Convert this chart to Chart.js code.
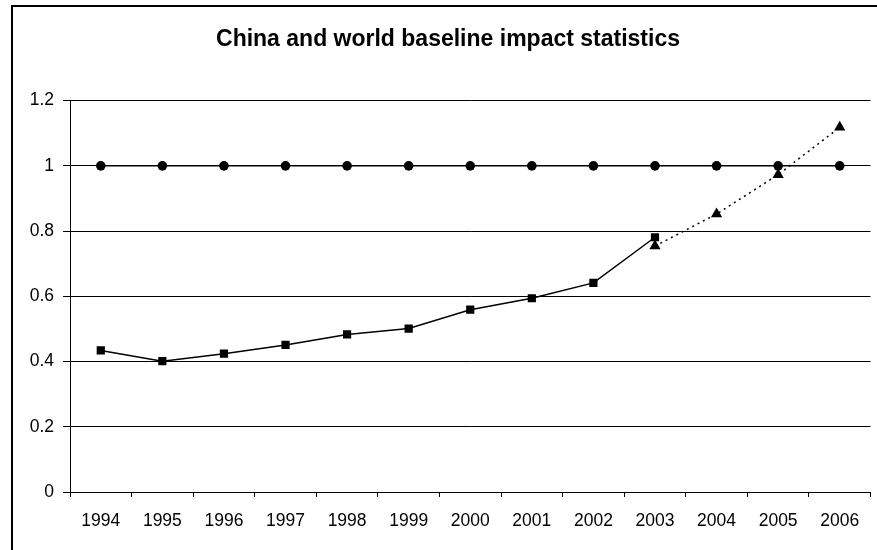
<!DOCTYPE html>
<html>
<head>
<meta charset="utf-8">
<script src="https://cdn.jsdelivr.net/npm/chart.js@4/dist/chart.umd.min.js"></script>
<style>
  html, body { margin: 0; padding: 0; background: #fff; }
  #wrap { width: 877px; height: 550px; }
</style>
</head>
<body>
<div id="wrap"><canvas id="c" width="877" height="550"></canvas></div>
<script>
// Categories and series
const years = ['1994', '1995', '1996', '1997', '1998', '1999', '2000',
               '2001', '2002', '2003', '2004', '2005', '2006'];
const worldBaseline = [1, 1, 1, 1, 1, 1, 1, 1, 1, 1, 1, 1, 1];
const chinaImpact = [0.434, 0.401, 0.424, 0.451, 0.483, 0.501, 0.559,
                     0.594, 0.641, 0.781, null, null, null];
const chinaProjected = [null, null, null, null, null, null, null,
                        null, null, 0.754, 0.852, 0.973, 1.118];
const yTickValues = [0, 0.2, 0.4, 0.6, 0.8, 1, 1.2];
const yTickLabels = ['0', '0.2', '0.4', '0.6', '0.8', '1', '1.2'];
const chartTitle = 'China and world baseline impact statistics';

const FONT = "'Liberation Sans', Arial, Helvetica, sans-serif";
Chart.defaults.font.family = FONT;
Chart.defaults.color = '#000';

// Outer frame of the chart object (left and top edges)
const framePlugin = {
  id: 'frame',
  beforeDraw(chart) {
    const ctx = chart.ctx;
    ctx.save();
    ctx.fillStyle = '#fff';
    ctx.fillRect(0, 0, chart.width, chart.height);
    ctx.fillStyle = '#000';
    ctx.fillRect(11, 5, 2, chart.height);
    ctx.fillRect(11, 5, chart.width, 2);
    ctx.restore();
  }
};

new Chart(document.getElementById('c'), {
  type: 'line',
  data: {
    labels: years,
    datasets: [
      {
        label: 'World',
        data: worldBaseline,
        borderColor: '#000',
        backgroundColor: '#000',
        borderWidth: 1.5,
        pointStyle: 'circle',
        pointRadius: 4.8,
        pointBorderWidth: 0,
        pointBackgroundColor: '#000',
        tension: 0
      },
      {
        label: 'China',
        data: chinaImpact,
        borderColor: '#000',
        backgroundColor: '#000',
        borderWidth: 1.5,
        pointStyle: 'rect',
        pointRadius: 5.8,
        pointBorderWidth: 0,
        pointBackgroundColor: '#000',
        tension: 0
      },
      {
        label: 'China (projected)',
        data: chinaProjected,
        borderColor: '#000',
        backgroundColor: '#000',
        borderWidth: 1.5,
        borderDash: [2, 4],
        pointStyle: 'triangle',
        pointRadius: 6.5,
        pointBorderWidth: 0,
        pointBackgroundColor: '#000',
        tension: 0
      }
    ]
  },
  options: {
    responsive: false,
    animation: false,
    devicePixelRatio: 1,
    layout: { padding: { left: 20, right: 1, top: 0, bottom: 0 } },
    plugins: {
      legend: { display: false },
      tooltip: { enabled: false },
      title: {
        display: true,
        text: chartTitle,
        color: '#000',
        font: { family: FONT, size: 23, weight: 'bold' },
        padding: { top: 26, bottom: 47 }
      }
    },
    scales: {
      x: {
        type: 'category',
        offset: true,
        grid: {
          display: true,
          drawOnChartArea: false,
          drawTicks: true,
          tickLength: 5,
          offset: true,
          color: '#000',
          tickColor: '#000',
          lineWidth: 1
        },
        border: { display: true, color: '#000', width: 1 },
        ticks: {
          color: '#000',
          font: { family: FONT, size: 17.5 },
          padding: 14,
          maxRotation: 0,
          autoSkip: false
        },
        afterFit(scale) { scale.height = 58; }
      },
      y: {
        min: 0,
        max: 1.2,
        afterBuildTicks(scale) {
          scale.ticks = yTickValues.map(v => ({ value: v }));
        },
        grid: {
          display: true,
          drawOnChartArea: true,
          drawTicks: true,
          tickLength: 7,
          color: '#000',
          tickColor: '#000',
          lineWidth: 1
        },
        border: { display: true, color: '#000', width: 1 },
        ticks: {
          color: '#000',
          font: { family: FONT, size: 17.5 },
          padding: 9,
          callback(value, index) { return yTickLabels[index]; }
        },
        afterFit(scale) { scale.width = 50; }
      }
    }
  },
  plugins: [framePlugin]
});
</script>
</body>
</html>
